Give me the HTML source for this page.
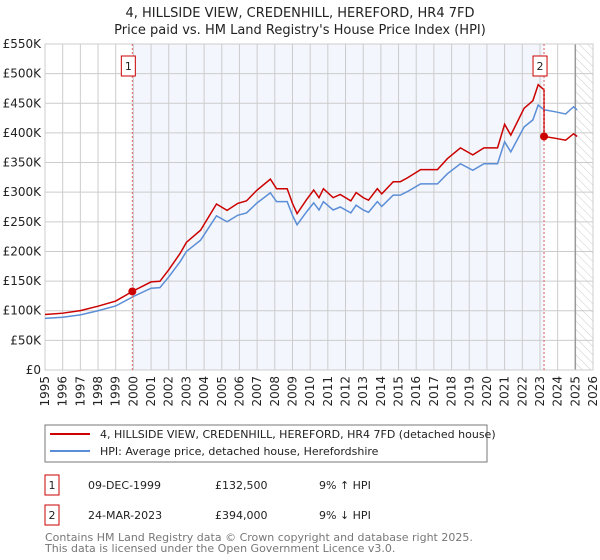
<!DOCTYPE html>
<html><head><meta charset="utf-8"><style>
body{margin:0;background:#fff;}
svg{display:block;font-family:"DejaVu Sans","Liberation Sans",sans-serif;}
</style></head><body>
<svg id="chart" width="600" height="560" viewBox="0 0 600 560">
<defs><pattern id="hatch" width="6" height="6" patternUnits="userSpaceOnUse" patternTransform="rotate(-45)"><line x1="0" y1="0" x2="0" y2="6" stroke="#ccc" stroke-width="1"/></pattern></defs>
<text x="300" y="17" text-anchor="middle" font-size="13" fill="#222">4, HILLSIDE VIEW, CREDENHILL, HEREFORD, HR4 7FD</text>
<text x="300" y="34" text-anchor="middle" font-size="13" fill="#222">Price paid vs. HM Land Registry's House Price Index (HPI)</text>
<g id="plot"></g>
<rect x="45" y="425" width="442" height="37" fill="#fff" stroke="#777"/>
<line x1="50" y1="434" x2="90" y2="434" stroke="#cc0000" stroke-width="2"/>
<text x="100" y="438" font-size="11" fill="#222">4, HILLSIDE VIEW, CREDENHILL, HEREFORD, HR4 7FD (detached house)</text>
<line x1="50" y1="451" x2="90" y2="451" stroke="#5b8ed6" stroke-width="2"/>
<text x="100" y="455" font-size="11" fill="#222">HPI: Average price, detached house, Herefordshire</text>
<rect x="45" y="475" width="14" height="20" fill="#fff" stroke="#cc0000"/>
<text x="52" y="489" font-size="11" text-anchor="middle" fill="#222">1</text>
<text x="88" y="489" font-size="11" fill="#222">09-DEC-1999</text>
<text x="215" y="489" font-size="11" fill="#222">£132,500</text>
<text x="319" y="489" font-size="11" fill="#222">9% ↑ HPI</text>
<rect x="45" y="505" width="14" height="20" fill="#fff" stroke="#cc0000"/>
<text x="52" y="519" font-size="11" text-anchor="middle" fill="#222">2</text>
<text x="88" y="519" font-size="11" fill="#222">24-MAR-2023</text>
<text x="215" y="519" font-size="11" fill="#222">£394,000</text>
<text x="319" y="519" font-size="11" fill="#222">9% ↓ HPI</text>
<text x="45" y="541" font-size="11" fill="#777">Contains HM Land Registry data © Crown copyright and database right 2025.</text>
<text x="45" y="552" font-size="11" fill="#777">This data is licensed under the Open Government Licence v3.0.</text>
</svg>
<script>
const hpiYears=[1995,1996,1997,1998,1999,2000,2001,2001.5,2002,2002.65,2003,2003.8,2004.7,2005.3,2005.9,2006.4,2007.0,2007.75,2008.1,2008.7,2009.0,2009.26,2009.8,2010.2,2010.5,2010.75,2011.3,2011.7,2012.3,2012.6,2013.0,2013.3,2013.8,2014.05,2014.7,2015.1,2015.5,2016.25,2017.2,2017.76,2018.5,2019.2,2019.83,2020.6,2021.0,2021.35,2022.1,2022.6,2022.9,2023.23,2023.8,2024.45,2024.9,2025.1];
const hpiValues=[87000,89000,93000,100000,108000,124000,138000,139000,157000,183000,200000,219000,260000,250000,261000,265000,282000,299000,284000,284000,261000,245000,267000,282000,270000,284000,270000,275000,265000,278000,270000,266000,284000,276000,295000,295000,301000,314000,314000,331000,348000,337000,348000,348000,385000,368000,410000,422000,447000,439000,436000,432000,444000,439000];
const saleYears=[1999.94,2023.23];
const salePrices=[132500,394000];
const yTicks=[0,50000,100000,150000,200000,250000,300000,350000,400000,450000,500000,550000];
const yTickLabels=["£0","£50K","£100K","£150K","£200K","£250K","£300K","£350K","£400K","£450K","£500K","£550K"];
const xTicks=[1995,1996,1997,1998,1999,2000,2001,2002,2003,2004,2005,2006,2007,2008,2009,2010,2011,2012,2013,2014,2015,2016,2017,2018,2019,2020,2021,2022,2023,2024,2025,2026];
const dataEndYear=2025.0;

const NS="http://www.w3.org/2000/svg";
const L=45,R=593,T=44,B=370,X0=1995,X1=2026,YMAX=550000;
const xs=y=>L+(y-X0)/(X1-X0)*(R-L);
const ys=v=>B-v/YMAX*(B-T);
const g=document.getElementById('plot');
function mk(tag,attrs,parent){const e=document.createElementNS(NS,tag);for(const k in attrs)e.setAttribute(k,attrs[k]);(parent||g).appendChild(e);return e;}
function hpiAt(t){if(t<=hpiYears[0])return hpiValues[0];for(let i=1;i<hpiYears.length;i++){if(t<=hpiYears[i]){const f=(t-hpiYears[i-1])/(hpiYears[i]-hpiYears[i-1]);return hpiValues[i-1]+f*(hpiValues[i]-hpiValues[i-1]);}}return hpiValues[hpiValues.length-1];}

const bg=mk('rect',{x:L,y:T,width:R-L,height:B-T,fill:'#fff'});


const own=mk('rect',{x:xs(saleYears[0]),y:T,width:xs(saleYears[1])-xs(saleYears[0]),height:B-T,fill:'#f3f6fd'});


const hat=mk('rect',{x:xs(dataEndYear),y:T,width:R-xs(dataEndYear),height:B-T,fill:'url(#hatch)'});


yTicks.forEach((v,i)=>{
  const ln=mk('line',{x1:L,x2:R,y1:ys(v),y2:ys(v),stroke:'#ccc','stroke-width':1});
  
  
  const t=mk('text',{x:L-4,y:ys(v)+4,'text-anchor':'end','font-size':12,fill:'#222'});
  t.textContent=yTickLabels[i];
  
  
});
xTicks.forEach(yr=>{
  const ln=mk('line',{x1:xs(yr),x2:xs(yr),y1:T,y2:B,stroke:'#ccc','stroke-width':1});
  
  
  const t=mk('text',{x:0,y:0,'text-anchor':'end','font-size':12,fill:'#222',transform:`translate(${xs(yr)+4},${B+6}) rotate(-90)`});
  t.textContent=yr;
  
  
});
const endLine=mk('line',{x1:xs(dataEndYear),x2:xs(dataEndYear),y1:T,y2:B,stroke:'#999','stroke-width':1.5});


const border=mk('rect',{x:L,y:T,width:R-L,height:B-T,fill:'none',stroke:'#ccc'});



// HPI line
const hp=mk('polyline',{points:hpiYears.map((y,i)=>xs(y)+','+ys(hpiValues[i])).join(' '),fill:'none',stroke:'#5b8ed6','stroke-width':1.5});


// property line: sale price indexed by HPI
const pts=[];
const r0=salePrices[0]/hpiAt(saleYears[0]);
const r1=salePrices[1]/hpiAt(saleYears[1]);
hpiYears.forEach((y,i)=>{
  if(y<saleYears[1]){pts.push([y,hpiValues[i]*r0]);}
});
pts.push([saleYears[1],hpiAt(saleYears[1])*r0]);
pts.push([saleYears[1],salePrices[1]]);
hpiYears.forEach((y,i)=>{if(y>saleYears[1])pts.push([y,hpiValues[i]*r1]);});
const pl=mk('polyline',{points:pts.map(p=>xs(p[0])+','+ys(p[1])).join(' '),fill:'none',stroke:'#cc0000','stroke-width':1.5});



saleYears.forEach((y,i)=>{
  const dl=mk('line',{x1:xs(y),x2:xs(y),y1:T,y2:B,stroke:'#e06060','stroke-width':1,'stroke-dasharray':'2,2'});
  
  
  const c=mk('circle',{cx:xs(y),cy:ys(salePrices[i]),r:4,fill:'#cc0000'});
  
  
  const b=mk('rect',{x:xs(y)-11,y:56,width:14,height:20,fill:'#fff',stroke:'#cc0000'});
  
  
  const t=mk('text',{x:xs(y)-4,y:70,'text-anchor':'middle','font-size':11,fill:'#222'});
  t.textContent=String(i+1);
  
  
});
</script>
</body></html>
